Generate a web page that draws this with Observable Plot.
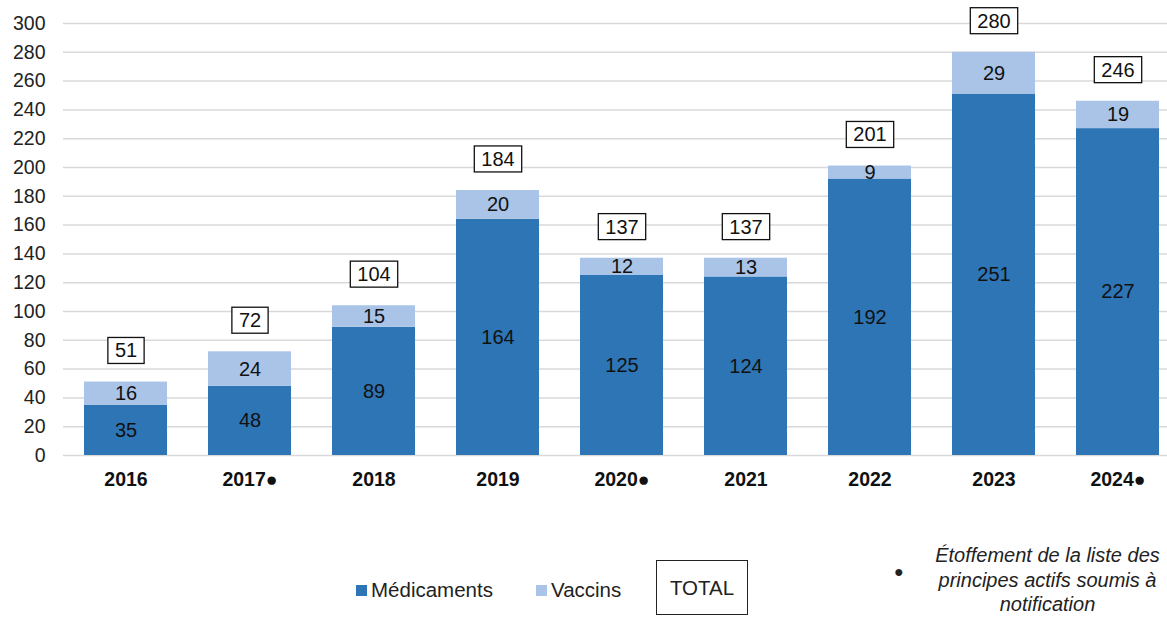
<!DOCTYPE html>
<html><head><meta charset="utf-8">
<script src="https://cdn.jsdelivr.net/npm/d3@7"></script>
<script src="https://cdn.jsdelivr.net/npm/@observablehq/plot@0.6"></script>
<style>
body{margin:0;background:#fff;font-family:"Liberation Sans",Arial,sans-serif;overflow:hidden;}
#wrap{position:relative;width:1167px;height:617px;overflow:hidden;}
.leg{position:absolute;font-size:20.5px;color:#222;white-space:nowrap;}
.sw{display:inline-block;width:11px;height:11px;margin-right:4px;vertical-align:1px;}
</style></head><body>
<div id="wrap"></div>
<script>
const years = ["2016","2017","2018","2019","2020","2021","2022","2023","2024"];
const marked = ["2017","2020","2024"];
const medicaments = [35,48,89,164,125,124,192,251,227];
const vaccins = [16,24,15,20,12,13,9,29,19];
const totals = [51,72,104,184,137,137,201,280,246];
const yTicks = [0,20,40,60,80,100,120,140,160,180,200,220,240,260,280,300];
const colors = {"Médicaments":"#2E75B6","Vaccins":"#A9C4E6"};

const rows = [];
years.forEach((y,i)=>{
  rows.push({year:y, serie:"Médicaments", value:medicaments[i], lo:0, hi:medicaments[i]});
  rows.push({year:y, serie:"Vaccins", value:vaccins[i], lo:medicaments[i], hi:medicaments[i]+vaccins[i]});
});
const tot = years.map((y,i)=>({year:y,total:totals[i]}));

const chart = Plot.plot({
  width:1181, height:505,
  marginTop:23, marginBottom:50, marginLeft:63, marginRight:0,
  style:{fontFamily:"'Liberation Sans',Arial,sans-serif", fontSize:"19px", color:"#222", overflow:"visible", maxWidth:"none"},
  x:{domain:years, paddingInner:0.33, paddingOuter:0.165, label:null},
  y:{domain:[0,300], label:null},
  color:{domain:Object.keys(colors), range:Object.values(colors)},
  marks:[
    Plot.gridY(yTicks,{stroke:"#d9d9d9", strokeOpacity:1, strokeWidth:1.5}),
    Plot.barY(rows,{x:"year", y1:"lo", y2:"hi", fill:"serie"}),
    Plot.text(rows,{x:"year", y:d=>(d.lo+d.hi)/2, text:d=>String(d.value), fill:"#111", fontSize:20}),
    Plot.text(tot,{x:"year", y:"total", dy:-31, text:d=>String(d.total), fill:"#111", fontSize:20}),
    Plot.axisY(yTicks,{tickSize:0, tickPadding:18, fontSize:19.5, label:null, fill:"#222"}),
    Plot.axisX({tickSize:0, tickPadding:17, fontWeight:"bold", fontSize:19.5, label:null, fill:"#111",
       tickFormat:d=>marked.includes(d)? d+"●" : d})
  ]
});
chart.style.maxWidth = "none";
const wrap = document.getElementById("wrap");
wrap.appendChild(chart);
// boxes around totals (second "text" mark group)
const textGroups = chart.querySelectorAll('g[aria-label="text"]');
const totG = textGroups[1];
if (totG) {
  Array.from(totG.querySelectorAll("text")).forEach(t => {
    const b = t.getBBox();
    const r = document.createElementNS("http://www.w3.org/2000/svg","rect");
    r.setAttribute("x", b.x-7); r.setAttribute("y", b.y-2);
    r.setAttribute("width", b.width+14); r.setAttribute("height", b.height+4);
    r.setAttribute("fill","#fff"); r.setAttribute("stroke","#111"); r.setAttribute("stroke-width","1.3");
    const tr = t.getAttribute("transform");
    if (tr) r.setAttribute("transform", tr);
    t.parentNode.insertBefore(r, t);
  });
}

// legend
const leg = document.createElement("div");
leg.innerHTML = `
<div class="leg" style="left:356px;top:578px;"><span class="sw" style="background:${colors["Médicaments"]}"></span>Médicaments</div>
<div class="leg" style="left:536px;top:578px;"><span class="sw" style="background:${colors["Vaccins"]}"></span>Vaccins</div>
<div class="leg" style="left:656px;top:560px;width:92px;height:55px;border:1.3px solid #222;box-sizing:border-box;text-align:center;line-height:53px;">TOTAL</div>
<div class="leg" style="left:894px;top:563px;font-size:16px;">●</div>
<div class="leg" style="left:920px;top:543px;width:255px;text-align:center;font-style:italic;font-size:20px;line-height:24.5px;white-space:normal;">Étoffement de la liste des<br>principes actifs soumis à<br>notification</div>`;
wrap.appendChild(leg);
</script>
</body></html>
